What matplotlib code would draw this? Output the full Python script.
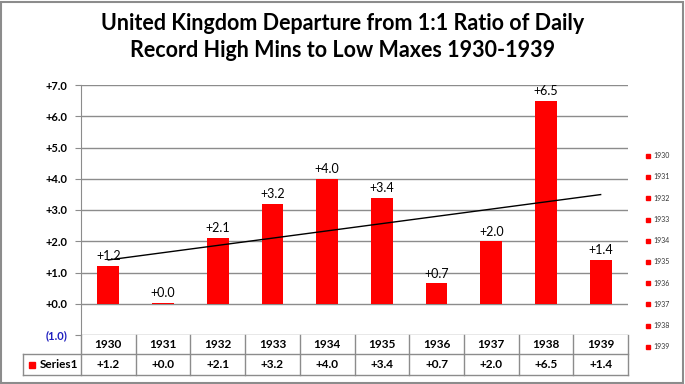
import numpy as np
import matplotlib
matplotlib.use("Agg")
from matplotlib import pyplot as plt
from matplotlib.lines import Line2D

years = [1930, 1931, 1932, 1933, 1934, 1935, 1936, 1937, 1938, 1939]
values = [1.2, 0.03, 2.1, 3.2, 4.0, 3.4, 0.65, 2.0, 6.5, 1.4]
yticks = [-1, 0, 1, 2, 3, 4, 5, 6, 7]
series_name = "Series1"
title = "United Kingdom Departure from 1:1 Ratio of Daily\nRecord High Mins to Low Maxes 1930-1939"

plt.rcParams["font.family"] = ["Lato", "DejaVu Sans"]
grid_col = "#8c8c8c"


def fmt(v):
    return "(%.1f)" % abs(v) if v < 0 else "+%.1f" % v


fig = plt.figure(figsize=(6.85, 3.84), dpi=100)
W, H = 685, 384
ax = fig.add_axes([81 / W, 1 - 335 / H, 547 / W, 250 / H])

x = np.arange(len(years))
ax.bar(x, values, width=0.4, color="#ff0000", zorder=3)
for xi, v in zip(x, values):
    ax.text(xi, v + 0.12, fmt(v), ha="center", va="bottom", fontsize=9, zorder=4)

# linear trend line
k, b = np.polyfit(x, values, 1)
ax.plot(x, k * x + b, color="black", lw=1, zorder=4)

ax.set_xlim(-0.5, len(years) - 0.5)
ax.set_ylim(-1, 7)
ax.set_yticks(yticks)
ax.set_yticklabels([fmt(t) for t in yticks], fontsize=8, fontweight="bold")
for lab, t in zip(ax.get_yticklabels(), yticks):
    if t < 0:
        lab.set_color("#1f1fbf")
ax.set_xticks([])
for t in yticks:
    ax.axhline(t, color=grid_col, lw=1, zorder=1)
for s in ["top", "right", "bottom"]:
    ax.spines[s].set_visible(False)
ax.spines["left"].set_color(grid_col)
ax.tick_params(axis="y", length=4, color=grid_col, pad=6)

# data table below the axis
tr = ax.transAxes
row_h1 = 19 / 250
row_h2 = 21 / 250
left_lab = (23 - 81) / 547
n = len(years)
kw = dict(transform=tr, clip_on=False, color=grid_col, lw=1)
ax.add_line(Line2D([left_lab, 1], [-row_h1, -row_h1], **kw))
ax.add_line(Line2D([left_lab, 1], [-row_h1 - row_h2, -row_h1 - row_h2], **kw))
ax.add_line(Line2D([left_lab, left_lab], [-row_h1, -row_h1 - row_h2], **kw))
for i in range(n + 1):
    ax.add_line(Line2D([i / n, i / n], [0, -row_h1 - row_h2], **kw))
for i, (yr, v) in enumerate(zip(years, values)):
    cx = (i + 0.5) / n
    ax.text(cx, -row_h1 / 2, str(yr), transform=tr, ha="center", va="center",
            fontsize=8.5, fontweight="bold")
    ax.text(cx, -row_h1 - row_h2 / 2, fmt(v), transform=tr, ha="center", va="center",
            fontsize=8.5, fontweight="bold")
ax.plot([left_lab + 0.016], [-row_h1 - row_h2 / 2], marker="s", ms=5, color="#ff0000",
        transform=tr, clip_on=False)
ax.text(left_lab + 0.03, -row_h1 - row_h2 / 2, series_name, transform=tr, ha="left",
        va="center", fontsize=8.5, fontweight="bold")

# legend on the right
handles = [Line2D([], [], marker="s", ls="none", ms=3.5, color="#ff0000") for _ in years]
fig.legend(handles, [str(y) for y in years], loc="upper left",
           bbox_to_anchor=(640 / W, 1 - 146 / H), frameon=False, fontsize=5,
           labelspacing=2.05, handlelength=0.6, handletextpad=0.4, labelcolor="#333333")

fig.text(0.5, 1 - 37 / H, title, ha="center", va="center", fontsize=15.5,
         fontweight="bold", linespacing=1.4)

# outer frame
fig.add_artist(plt.Rectangle((1 / W, 1 / H), 682 / W, 381 / H, transform=fig.transFigure,
                             fill=False, edgecolor=grid_col, lw=1.5))

fig.savefig("out.png", dpi=100)
